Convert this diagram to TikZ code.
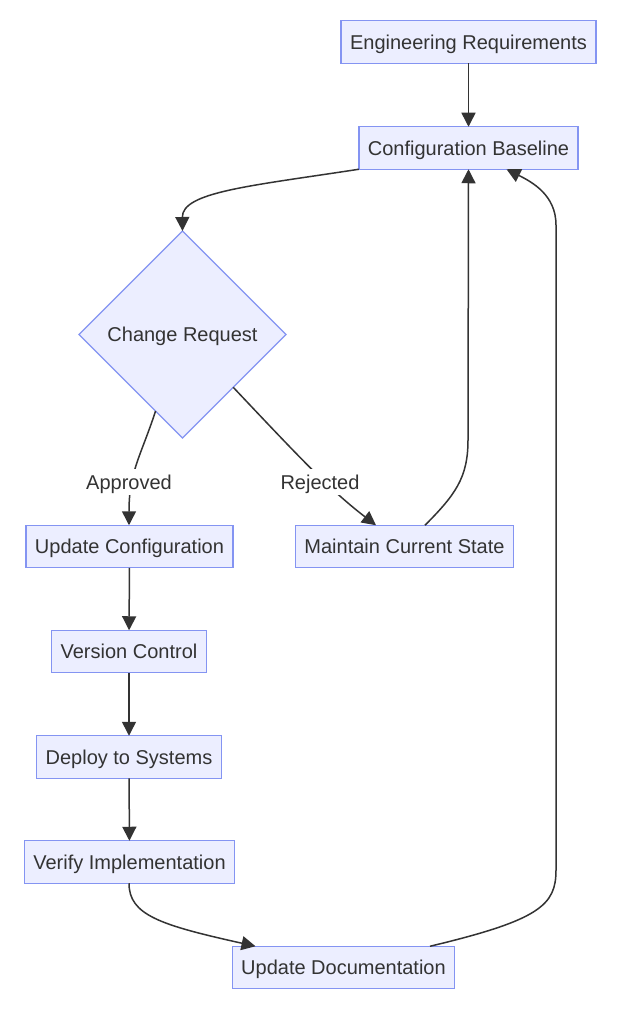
\documentclass[tikz,border=0pt]{standalone}
\usepackage{fontspec}
\setmainfont{Liberation Sans}
\usetikzlibrary{shapes.geometric,arrows.meta,calc}
\definecolor{nodefill}{RGB}{236,238,255}
\definecolor{nodeline}{RGB}{132,148,242}
\definecolor{txt}{RGB}{51,51,51}
\definecolor{edge}{RGB}{51,51,51}
\tikzset{
  boxnode/.style={draw=nodeline, fill=nodefill, line width=1.3pt, text=txt,
    inner xsep=9pt, inner ysep=0pt, minimum height=42.5pt, outer sep=0pt,
    text height=18.5pt, text depth=4pt,
    font=\fontsize{20}{23}\selectfont},
  decnode/.style={diamond, aspect=1, draw=nodeline, fill=nodefill, line width=1.3pt,
    text=txt, minimum width=207pt, minimum height=207pt, inner sep=0pt, outer sep=0pt,
    text height=18.5pt, text depth=4pt,
    font=\fontsize{20}{23}\selectfont},
  flow/.style={draw=edge, line width=1.5pt, -{Triangle[length=14pt,width=14pt]}},
  elabel/.style={fill=white, text=txt, inner sep=2pt, text height=18.5pt, text depth=4pt,
    font=\fontsize{20}{23}\selectfont}
}
\begin{document}
\begin{tikzpicture}[x=1pt,y=-1pt]
\useasboundingbox (0,0) rectangle (636,1014);
\fill[white] (0,0) rectangle (636,1014);

\node[boxnode] (er) at (468.5,42) {Engineering Requirements};
\node[boxnode] (cb) at (468.5,148) {Configuration Baseline};
\node[decnode] (cr) at (182.5,334.5) {Change Request};
\node[boxnode] (uc) at (129.5,546.5) {Update Configuration};
\node[boxnode] (ms) at (404.5,546.5) {Maintain Current State};
\node[boxnode] (vc) at (129,651.5) {Version Control};
\node[boxnode] (ds) at (129,757) {Deploy to Systems};
\node[boxnode] (vi) at (129.5,862) {Verify Implementation};
\node[boxnode] (ud) at (343.5,967.5) {Update Documentation};

\draw[flow] (er) -- (cb);
\draw[flow] (cb.south west) .. controls (250,186) and (182,192) .. (cr.north);
\draw[flow] ($(cr.south)!0.26!(cr.west)$) .. controls (140,458) and (129,472) .. ([xshift=-0.5pt]uc.north);
\draw[flow] ($(cr.south)!0.49!(cr.east)$) .. controls (300,458) and (330,490) .. ([xshift=-28.5pt]ms.north);
\draw[flow] ([xshift=20.5pt]ms.north) .. controls (455,495) and (468,478) .. (468,440) -- (cb.south);
\draw[flow] (uc) -- (vc);
\draw[flow] (vc) -- (ds);
\draw[flow] (ds) -- (vi);
\draw[flow] ([xshift=-0.5pt]vi.south) .. controls (129,915) and (160,925) .. ([xshift=-88pt]ud.north);
\draw[flow] ([xshift=86.5pt]ud.north) .. controls (540,920) and (556,905) .. (556,870) -- (556,225) .. controls (556,195) and (532,182) .. ([xshift=38pt]cb.south);

\node[elabel] (la) at (129,482) {Approved};
\node[elabel] (lr) at (320,482) {Rejected};
\end{tikzpicture}
\end{document}
